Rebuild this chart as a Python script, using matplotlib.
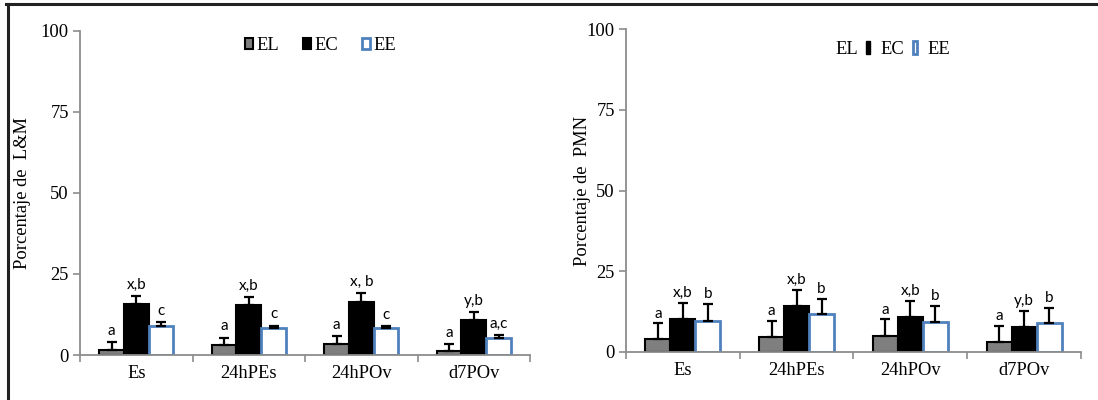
import matplotlib
matplotlib.use('Agg')
import matplotlib.pyplot as plt
from matplotlib.patches import Patch
from matplotlib.lines import Line2D
import numpy as np

# datos
categorias = ['Es', '24hPEs', '24hPOv', 'd7POv']
series = ['EL', 'EC', 'EE']

lm_media = {'EL': [1.4, 3.1, 3.5, 1.2],
            'EC': [15.6, 15.3, 16.5, 10.9],
            'EE': [9.1, 8.2, 8.2, 5.4]}
lm_error = {'EL': [2.5, 2.3, 2.3, 2.3],
            'EC': [2.5, 2.5, 2.5, 2.4],
            'EE': [1.2, 0.9, 0.6, 0.8]}
lm_letras = {'EL': ['a', 'a', 'a', 'a'],
             'EC': ['x,b', 'x,b', 'x, b', 'y,b'],
             'EE': ['c', 'c', 'c', 'a,c']}

pmn_media = {'EL': [4.0, 4.75, 5.1, 3.1],
             'EC': [10.1, 14.3, 10.8, 7.7],
             'EE': [9.7, 11.9, 9.4, 8.9]}
pmn_error = {'EL': [4.9, 4.95, 5.0, 5.1],
             'EC': [5.2, 4.9, 5.1, 5.1],
             'EE': [5.3, 4.6, 5.0, 4.7]}
pmn_letras = {'EL': ['a', 'a', 'a', 'a'],
              'EC': ['x,b', 'x,b', 'x,b', 'y,b'],
              'EE': ['b', 'b', 'b', 'b']}

yticks = [0, 25, 50, 75, 100]

estilo = {'EL': dict(facecolor='#7f7f7f', edgecolor='black', linewidth=1.5),
          'EC': dict(facecolor='black', edgecolor='black', linewidth=1.5),
          'EE': dict(facecolor='white', edgecolor='#4f81bd', linewidth=2)}

plt.rcParams['font.family'] = ['Liberation Serif', 'DejaVu Serif']
GRIS = '#8c8c8c'
ANCHO = 0.22
TAM = 13.3


def dibujar(ax, media, error, letras, ylabel, off):
    x = np.arange(len(categorias))
    for j, s in enumerate(series):
        pos = x + (j - 1) * ANCHO
        ax.bar(pos, media[s], ANCHO, zorder=2, **estilo[s])
        ax.errorbar(pos, media[s], yerr=[np.zeros(len(x)), error[s]], fmt='none',
                    ecolor='black', elinewidth=1.6, capsize=3.5, capthick=1.6, zorder=3)
        for p, m, e, t in zip(pos, media[s], error[s], letras[s]):
            ax.annotate(t, (p, m + e), xytext=(0, off), textcoords='offset points',
                        ha='center', va='center', fontsize=11, family='Lato')
    ax.set_xlim(-0.5, len(categorias) - 0.5)
    ax.set_ylim(0, 100)
    ax.set_yticks(yticks)
    ax.set_xticks(np.arange(len(categorias) + 1) - 0.5)
    ax.set_xticklabels([])
    ax.set_xticks(x, minor=True)
    ax.set_xticklabels(categorias, minor=True, fontsize=TAM)
    ax.tick_params(axis='x', which='major', direction='out', length=5, width=1.2, color=GRIS)
    ax.tick_params(axis='x', which='minor', length=0, pad=7)
    ax.tick_params(axis='y', direction='out', length=5, width=1.2, color=GRIS,
                   labelsize=TAM, pad=3)
    for lado in ['top', 'right']:
        ax.spines[lado].set_visible(False)
    for lado in ['left', 'bottom']:
        ax.spines[lado].set_color(GRIS)
        ax.spines[lado].set_linewidth(1.3)
    ax.set_ylabel(ylabel, fontsize=TAM)


fig = plt.figure(figsize=(10.98, 4.0), dpi=100)
ax1 = fig.add_axes([0.0729, 0.1125, 0.4098, 0.81])
ax2 = fig.add_axes([0.5701, 0.12, 0.4144, 0.807])

dibujar(ax1, lm_media, lm_error, lm_letras, 'Porcentaje de  L&M', 8)
dibujar(ax2, pmn_media, pmn_error, pmn_letras, 'Porcentaje de  PMN', 7)
ax1.yaxis.set_label_coords(-0.108, 0.5)
ax2.yaxis.set_label_coords(-0.076, 0.5)

# leyenda izquierda
h1 = [Patch(**estilo[s]) for s in series]
ax1.legend(h1, series, loc='center', bbox_to_anchor=(0.535, 0.955), ncol=3, frameon=False,
           fontsize=TAM, handlelength=0.42, handleheight=0.55, handletextpad=0.2,
           columnspacing=1.3)

# leyenda derecha (marcadores desplazados como en el original)
h2 = [Patch(facecolor='none', edgecolor='none'),
      Patch(facecolor='black', edgecolor='black'),
      Patch(facecolor='white', edgecolor='#4f81bd', linewidth=2)]
ax2.legend(h2, series, loc='center', bbox_to_anchor=(0.57, 0.938), ncol=3, frameon=False,
           fontsize=TAM, handlelength=0.2, handleheight=0.7, handletextpad=0.6,
           columnspacing=0.45)

# marco
fig.add_artist(Line2D([6 / 1098, 1], [1 - 4 / 400, 1 - 4 / 400], transform=fig.transFigure,
                      color='#222222', lw=2.2))
fig.add_artist(Line2D([7.5 / 1098, 7.5 / 1098], [0, 1 - 4 / 400], transform=fig.transFigure,
                      color='#222222', lw=2.2))

fig.savefig('out.png', dpi=100)
